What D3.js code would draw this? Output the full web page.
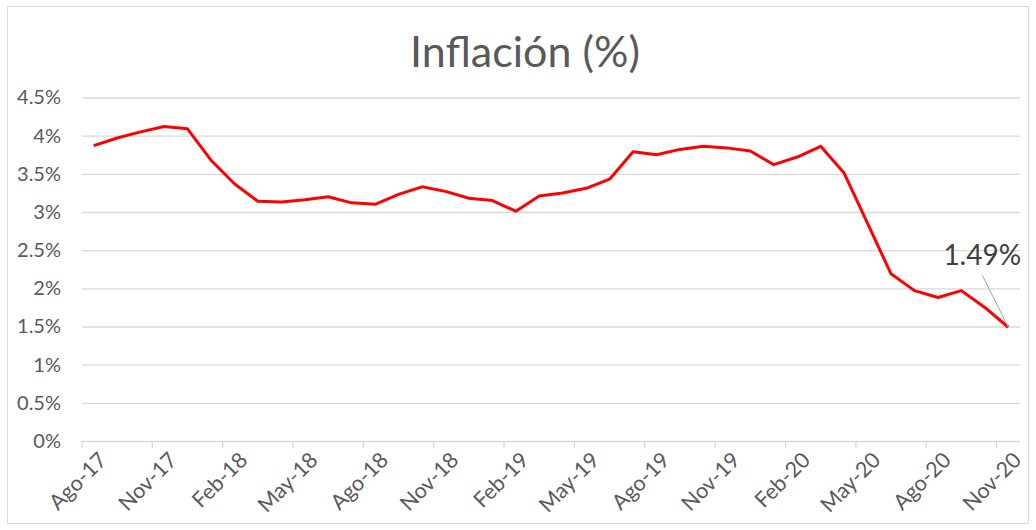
<!DOCTYPE html>
<html>
<head>
<meta charset="utf-8">
<script src="https://cdnjs.cloudflare.com/ajax/libs/d3/7.8.5/d3.min.js"></script>
<style>
  body { margin: 0; background: #fff; }
  svg text { font-family: Lato, "Open Sans", sans-serif; fill: #595959; }
</style>
</head>
<body>
<div class="chart"></div>
<script>
var WIDTH = 1036;
var HEIGHT = 530;

// monthly categories, Ago-17 .. Nov-20
var months = [
    "Ago-17", "Sep-17", "Oct-17", "Nov-17", "Dic-17",
    "Ene-18", "Feb-18", "Mar-18", "Abr-18", "May-18", "Jun-18", "Jul-18",
    "Ago-18", "Sep-18", "Oct-18", "Nov-18", "Dic-18",
    "Ene-19", "Feb-19", "Mar-19", "Abr-19", "May-19", "Jun-19", "Jul-19",
    "Ago-19", "Sep-19", "Oct-19", "Nov-19", "Dic-19",
    "Ene-20", "Feb-20", "Mar-20", "Abr-20", "May-20", "Jun-20", "Jul-20",
    "Ago-20", "Sep-20", "Oct-20", "Nov-20"
];

// inflation, %
var inflacion = [
    3.87, 3.97, 4.05, 4.12, 4.09,
    3.68, 3.37, 3.14, 3.13, 3.16, 3.20, 3.12,
    3.10, 3.23, 3.33, 3.27, 3.18,
    3.15, 3.01, 3.21, 3.25, 3.31, 3.43, 3.79,
    3.75, 3.82, 3.86, 3.84, 3.80,
    3.62, 3.72, 3.86, 3.51, 2.85, 2.19, 1.97,
    1.88, 1.97, 1.75, 1.49
];

var yTicks = [0, 0.5, 1, 1.5, 2, 2.5, 3, 3.5, 4, 4.5];
var xTickLabels = months.filter(function(d, i) { return i % 3 === 0; });

var PLOT_LEFT = 82;
var PLOT_RIGHT = 1020;
var PLOT_TOP = 97.5;
var PLOT_BOTTOM = 441;

var svg = d3.select(".chart")
    .append("svg")
    .attr("width", WIDTH)
    .attr("height", HEIGHT);

// chart border
svg.append("rect")
    .attr("x", 7.5)
    .attr("y", 6.5)
    .attr("width", 1021)
    .attr("height", 517)
    .attr("fill", "#fff")
    .attr("stroke", "#d9d9d9");

var x = d3.scaleBand()
    .domain(months)
    .range([PLOT_LEFT, PLOT_RIGHT])
    .padding(0);

var y = d3.scaleLinear()
    .domain([0, 4.5])
    .range([PLOT_BOTTOM, PLOT_TOP]);

function cx(m) {
    return x(m) + x.bandwidth() / 2;
}

// title
svg.append("text")
    .attr("x", 525)
    .attr("y", 67)
    .attr("text-anchor", "middle")
    .style("font-size", "43px")
    .text("Inflación (%)");

// y axis + gridlines
var yAxis = svg.append("g")
    .attr("transform", "translate(" + PLOT_LEFT + ",0)")
    .call(d3.axisLeft(y)
        .tickValues(yTicks)
        .tickSize(-(PLOT_RIGHT - PLOT_LEFT))
        .tickPadding(21)
        .tickFormat(function(d) { return d + "%"; }));

yAxis.select(".domain").remove();
yAxis.selectAll(".tick line")
    .attr("stroke", "#d9d9d9")
    .attr("stroke-width", 1.3);
yAxis.selectAll(".tick text")
    .style("font-size", "20px")
    .style("fill", "#595959");

// x axis: tick marks at month boundaries, labels at month centres
var xAxis = svg.append("g");

xAxis.selectAll("line.xtick")
    .data(xTickLabels)
    .enter().append("line")
    .attr("class", "xtick")
    .attr("x1", function(d) { return x(d); })
    .attr("x2", function(d) { return x(d); })
    .attr("y1", PLOT_BOTTOM)
    .attr("y2", PLOT_BOTTOM + 7)
    .attr("stroke", "#d9d9d9")
    .attr("stroke-width", 1.3);

xAxis.selectAll("text.xlabel")
    .data(xTickLabels)
    .enter().append("text")
    .attr("class", "xlabel")
    .attr("text-anchor", "end")
    .attr("transform", function(d) {
        return "translate(" + (cx(d) + 9) + "," + (PLOT_BOTTOM + 15) + ") rotate(-45)";
    })
    .attr("dy", "0.35em")
    .style("font-size", "21.5px")
    .text(function(d) { return d; });

// line
var line = d3.line()
    .x(function(d, i) { return cx(months[i]); })
    .y(function(d) { return y(d); });

svg.append("path")
    .datum(inflacion)
    .attr("d", line)
    .attr("fill", "none")
    .attr("stroke", "#ff0000")
    .attr("stroke-width", 3)
    .attr("stroke-linejoin", "round");

// last value label with leader line
var lastM = months[months.length - 1];
var lastV = inflacion[inflacion.length - 1];
var px = cx(lastM);
var py = y(lastV);

svg.append("line")
    .attr("x1", px - 26)
    .attr("y1", py - 52)
    .attr("x2", px)
    .attr("y2", py)
    .attr("stroke", "#a6a6a6")
    .attr("stroke-width", 1);

svg.append("text")
    .attr("x", px - 26)
    .attr("y", py - 62)
    .attr("text-anchor", "middle")
    .style("font-size", "28px")
    .style("fill", "#404040")
    .text(lastV.toFixed(2) + "%");
</script>
</body>
</html>
